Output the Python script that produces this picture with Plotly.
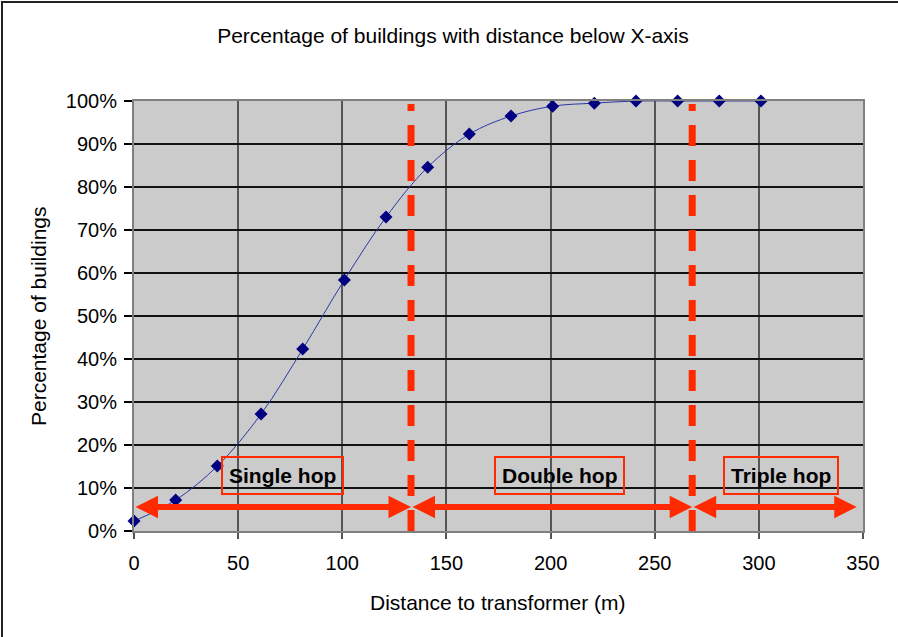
import plotly.graph_objects as go

# ---- data ----
distance_m = [0, 20, 40, 61, 81, 101, 121, 141, 161, 181, 201, 221, 241, 261, 281, 301]
pct_buildings = [0.023, 0.072, 0.151, 0.272, 0.423, 0.584, 0.730, 0.846, 0.923,
                 0.965, 0.988, 0.995, 1.0, 1.0, 1.0, 1.0]

hop_bounds = [0, 133, 268, 347]          # boundaries of hop zones (m)
hop_labels = ["Single hop", "Double hop", "Triple hop"]
hop_label_x = [71.5, 204.5, 310.5]
hop_label_y = 0.13
arrow_y = 0.056

x_ticks = [0, 50, 100, 150, 200, 250, 300, 350]
y_ticks = [0, 0.1, 0.2, 0.3, 0.4, 0.5, 0.6, 0.7, 0.8, 0.9, 1.0]

RED = "#FF2A00"
FONT = "Arial, Liberation Sans, sans-serif"

W, H = 898, 637
ML, MR, MT, MB = 134, 35, 101, 106
PW, PH = W - ML - MR, H - MT - MB

fig = go.Figure()
fig.add_trace(go.Scatter(
    x=distance_m, y=pct_buildings, mode="lines+markers",
    line=dict(color="#2a38a8", width=1, shape="spline", smoothing=1),
    marker=dict(symbol="diamond", size=10, color="#000080"),
    cliponaxis=False, showlegend=False, hoverinfo="x+y"))

shapes = []
# dashed boundaries
for b in hop_bounds[1:3]:
    shapes.append(dict(type="line", xref="x", yref="y", x0=b, x1=b, y0=0, y1=0.993,
                       line=dict(color=RED, width=7, dash="21px,14px"), layer="above"))
# outer chart border
shapes.append(dict(type="rect", xref="paper", yref="paper",
                   x0=-(ML - 2) / PW, x1=1 + (MR + 20) / PW,
                   y0=-(MB + 20) / PH, y1=1 + (MT - 2) / PH,
                   line=dict(color="#222222", width=2), fillcolor="rgba(0,0,0,0)"))

annotations = []
for i in range(3):
    annotations.append(dict(
        x=hop_bounds[i + 1], y=arrow_y, ax=hop_bounds[i], ay=arrow_y,
        xref="x", yref="y", axref="x", ayref="y", text="",
        showarrow=True, arrowside="end+start", arrowhead=2, arrowsize=0.75,
        arrowwidth=6, arrowcolor=RED, standoff=0, startstandoff=0))
for lbl, lx in zip(hop_labels, hop_label_x):
    annotations.append(dict(
        x=lx, y=hop_label_y, xref="x", yref="y", text="<b>" + lbl + "</b>",
        showarrow=False, font=dict(family=FONT, size=21, color="black"),
        bordercolor=RED, borderwidth=2, borderpad=6, bgcolor="rgba(0,0,0,0)"))
# axis titles
annotations.append(dict(x=(498 - ML) / PW, y=-(602 - (H - MB)) / PH, xref="paper", yref="paper",
                        xanchor="center", yanchor="middle",
                        text="Distance to transformer (m)", showarrow=False,
                        font=dict(family=FONT, size=21, color="black")))
annotations.append(dict(x=(38 - ML) / PW, y=0.5, xref="paper", yref="paper",
                        xanchor="center", yanchor="middle",
                        text="Percentage of buildings", showarrow=False, textangle=-90,
                        font=dict(family=FONT, size=21, color="black")))

fig.update_layout(
    width=W, height=H,
    margin=dict(l=ML, r=MR, t=MT, b=MB),
    paper_bgcolor="white", plot_bgcolor="#CBCBCB",
    title=dict(text="Percentage of buildings with distance below X-axis",
               x=453 / W, xanchor="center", y=1 - 36 / H, yanchor="middle",
               font=dict(family=FONT, size=21, color="black")),
    font=dict(family=FONT, size=20, color="black"),
    shapes=shapes, annotations=annotations,
    xaxis=dict(range=[0, 350], tickvals=x_ticks, ticktext=[str(v) for v in x_ticks],
               showgrid=True, gridcolor="#555555", gridwidth=2, zeroline=False,
               showline=True, linecolor="#808080", linewidth=2, mirror=True,
               ticks="outside", ticklen=6, tickcolor="#555555", tickwidth=2,
               ticklabelstandoff=7,
               tickfont=dict(family=FONT, size=20, color="black")),
    yaxis=dict(range=[0, 1], tickvals=y_ticks, tickformat=".0%",
               showgrid=True, gridcolor="#111111", gridwidth=1.5, zeroline=False,
               showline=True, linecolor="#808080", linewidth=2, mirror=True,
               ticks="outside", ticklen=8, tickcolor="black", tickwidth=1.5,
               ticklabelstandoff=3,
               tickfont=dict(family=FONT, size=20, color="black")),
)

fig.write_html("out.html")
